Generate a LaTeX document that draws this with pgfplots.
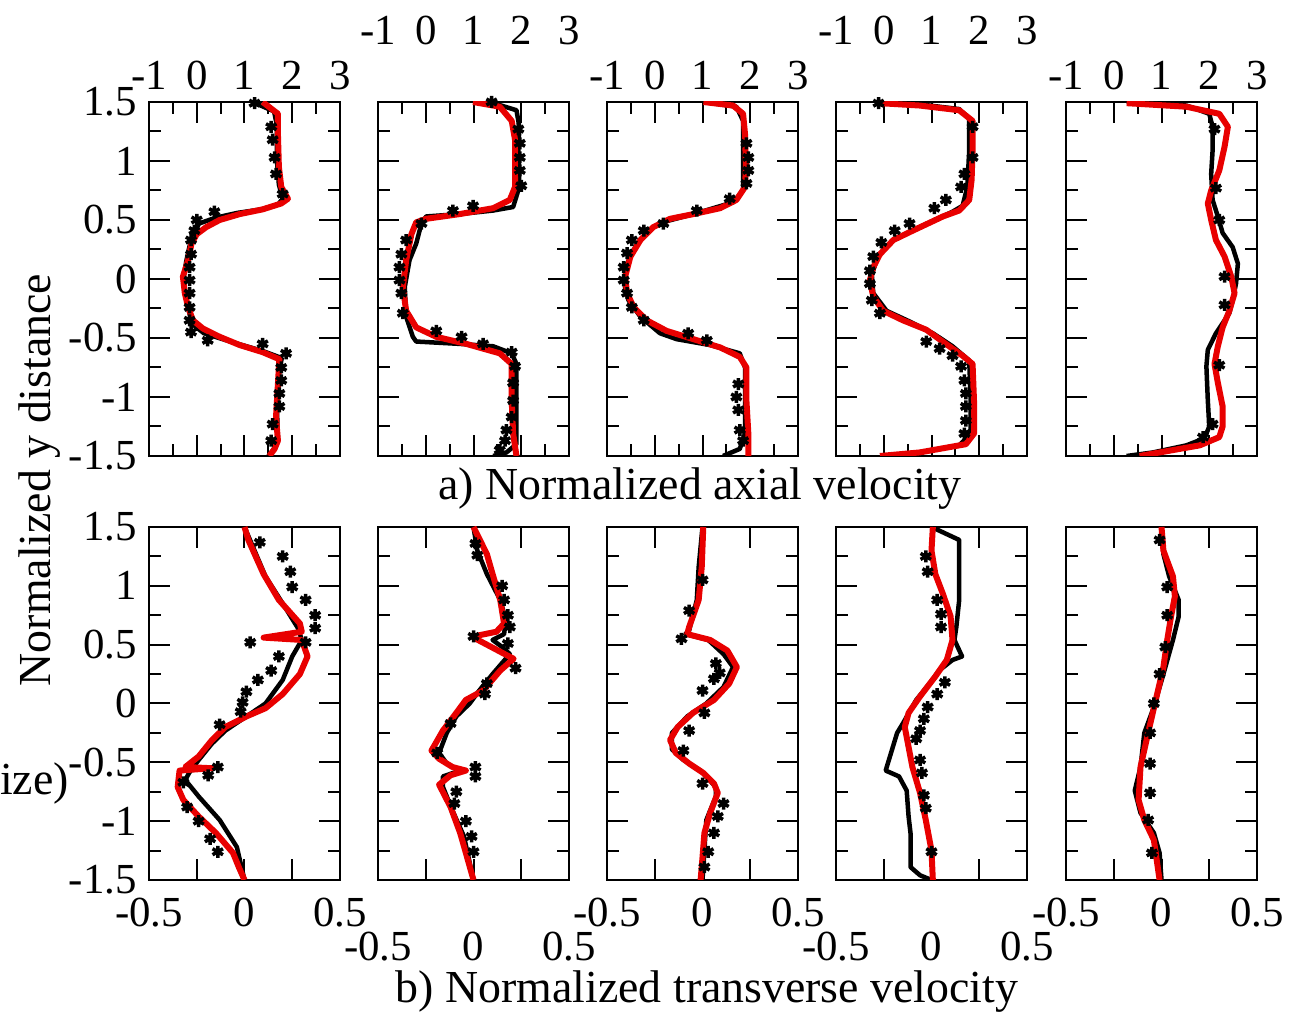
\documentclass[border=0pt]{standalone}
\usepackage{fontspec}
\setmainfont{Liberation Serif}
\usepackage{pgfplots}
\pgfplotsset{compat=1.18}
\definecolor{myred}{RGB}{232,0,0}
\pgfplotsset{
  panel/.style={scale only axis, width=191bp, anchor=north west,
    axis line style={line width=2bp},
    tick style={line width=2bp, black}, tick align=inside,
    major tick length=21bp, minor tick length=12bp,
    ymin=-1.5, ymax=1.5, ytick={-1.5,-1,-0.5,0,0.5,1,1.5},
    minor ytick={-1.25,-0.75,-0.25,0.25,0.75,1.25},
    yticklabels={},
    tick label style={font=\fontsize{43}{48}\selectfont, inner sep=0pt}},
  yl/.style={yticklabels={-1.5,-1,-0.5,0,0.5,1,1.5}, yticklabel style={anchor=east}, yticklabel shift=12bp},
  toprow/.style={panel, height=354bp, xmin=-1, xmax=3, xtick={-1,0,1,2,3},
    minor xtick={-0.5,0.5,1.5,2.5},
    xticklabel pos=upper, xticklabels={-1,0,1,2,3},
    xticklabel style={anchor=south}, xticklabel shift=#1},
  botrow/.style={panel, height=353bp, xmin=-0.5, xmax=0.5, xtick={-0.5,-0.25,0,0.25,0.5},
    xticklabels={-0.5,,0,,0.5}, xticklabel style={anchor=north}, xticklabel shift=#1},
  tkp/.style={black, line width=2bp, no marks, forget plot},
  bl/.style={black, line width=4.5bp, no marks, line join=round},
  rl/.style={myred, line width=6bp, no marks, line join=round},
  st/.style={only marks, mark=asterisk, mark size=6bp, mark options={line width=3.5bp, black}},
}
% tick marks as separate short segments in axis units (one plot per tick)
\newcommand{\topticks}{%
  \pgfplotsinvokeforeach{-1,-0.5,0,0.5,1}{
    \addplot[tkp] coordinates {(-1,##1)(-0.56,##1)};
    \addplot[tkp] coordinates {(3,##1)(2.56,##1)};}
  \pgfplotsinvokeforeach{-1.25,-0.75,-0.25,0.25,0.75,1.25}{
    \addplot[tkp] coordinates {(-1,##1)(-0.75,##1)};
    \addplot[tkp] coordinates {(3,##1)(2.75,##1)};}
  \pgfplotsinvokeforeach{0,1,2}{
    \addplot[tkp] coordinates {(##1,1.5)(##1,1.322)};
    \addplot[tkp] coordinates {(##1,-1.5)(##1,-1.322)};}
  \pgfplotsinvokeforeach{-0.5,0.5,1.5,2.5}{
    \addplot[tkp] coordinates {(##1,1.5)(##1,1.398)};
    \addplot[tkp] coordinates {(##1,-1.5)(##1,-1.398)};}
}
\newcommand{\botticks}{%
  \pgfplotsinvokeforeach{-1,-0.5,0,0.5,1}{
    \addplot[tkp] coordinates {(-0.5,##1)(-0.39,##1)};
    \addplot[tkp] coordinates {(0.5,##1)(0.39,##1)};}
  \pgfplotsinvokeforeach{-1.25,-0.75,-0.25,0.25,0.75,1.25}{
    \addplot[tkp] coordinates {(-0.5,##1)(-0.437,##1)};
    \addplot[tkp] coordinates {(0.5,##1)(0.437,##1)};}
  \pgfplotsinvokeforeach{-0.25,0,0.25}{
    \addplot[tkp] coordinates {(##1,1.5)(##1,1.322)};
    \addplot[tkp] coordinates {(##1,-1.5)(##1,-1.322)};}
}
\begin{document}
\begin{tikzpicture}
\useasboundingbox (0,0) rectangle (1292bp,1012bp);
% ---------------- TOP ROW ----------------
\begin{axis}[toprow=12bp, yl, at={(149bp,910bp)}]
\topticks
\addplot[st] coordinates {(1.21,1.49)(1.56,1.29)(1.59,1.18)(1.63,1.03)(1.66,0.89)(1.80,0.72)(0.37,0.57)(0.0,0.50)(-0.05,0.41)(-0.12,0.33)(-0.12,0.21)(-0.15,0.10)(-0.15,-0.01)(-0.15,-0.12)(-0.15,-0.24)(-0.15,-0.35)(-0.12,-0.45)(0.23,-0.52)(1.38,-0.55)(1.87,-0.63)(1.77,-0.75)(1.77,-0.86)(1.73,-0.97)(1.73,-1.08)(1.59,-1.23)(1.56,-1.37)};
\addplot[bl] coordinates {(1.17,1.5)(1.62,1.42)(1.68,1.30)(1.68,1.0)(1.72,0.80)(1.80,0.68)(1.70,0.63)(1.35,0.59)(0.85,0.56)(0.40,0.52)(0.05,0.47)(-0.08,0.38)(-0.15,0.28)(-0.22,0.15)(-0.28,0.0)(-0.24,-0.14)(-0.16,-0.28)(-0.10,-0.38)(0.15,-0.46)(0.70,-0.53)(1.38,-0.61)(1.78,-0.67)(1.72,-0.80)(1.68,-1.1)(1.70,-1.37)(1.60,-1.45)(1.50,-1.5)};
\addplot[rl] coordinates {(1.38,1.5)(1.70,1.40)(1.70,1.23)(1.72,0.95)(1.77,0.78)(1.91,0.68)(1.77,0.64)(1.38,0.59)(0.90,0.55)(0.48,0.50)(0.20,0.44)(0.0,0.38)(-0.11,0.30)(-0.18,0.16)(-0.29,0.02)(-0.25,-0.12)(-0.18,-0.24)(-0.08,-0.35)(0.13,-0.42)(0.48,-0.49)(0.90,-0.56)(1.38,-0.62)(1.73,-0.68)(1.70,-0.89)(1.66,-1.17)(1.70,-1.37)(1.63,-1.44)(1.52,-1.5)};
\end{axis}
\begin{axis}[toprow=57bp, at={(378bp,910bp)}]
\topticks
\addplot[st] coordinates {(1.38,1.5)(1.94,1.27)(1.97,1.15)(1.97,1.03)(1.97,0.92)(2.0,0.79)(0.99,0.62)(0.57,0.58)(-0.09,0.47)(-0.41,0.33)(-0.51,0.21)(-0.55,0.10)(-0.55,-0.01)(-0.51,-0.12)(-0.48,-0.29)(0.22,-0.44)(0.75,-0.49)(1.20,-0.55)(1.80,-0.62)(1.87,-0.74)(1.83,-0.88)(1.83,-1.03)(1.80,-1.17)(1.69,-1.28)(1.66,-1.37)(1.55,-1.45)};
\addplot[bl] coordinates {(1.34,1.5)(1.90,1.43)(1.96,1.29)(1.94,1.09)(1.96,0.78)(1.83,0.61)(1.41,0.58)(0.71,0.55)(0.01,0.53)(-0.09,0.47)(-0.20,0.30)(-0.34,0.16)(-0.44,-0.07)(-0.41,-0.32)(-0.27,-0.49)(-0.20,-0.53)(0.71,-0.55)(1.41,-0.57)(1.80,-0.63)(1.90,-0.72)(1.90,-1.03)(1.90,-1.40)(1.69,-1.47)(1.41,-1.5)};
\addplot[rl] coordinates {(0.99,1.5)(1.55,1.46)(1.80,1.34)(1.87,1.18)(1.87,0.95)(1.87,0.78)(1.76,0.67)(1.41,0.60)(0.71,0.55)(0.01,0.51)(-0.20,0.48)(-0.30,0.38)(-0.41,0.16)(-0.48,-0.07)(-0.41,-0.27)(-0.20,-0.41)(0.22,-0.49)(0.85,-0.55)(1.55,-0.63)(1.80,-0.72)(1.80,-1.03)(1.83,-1.31)(1.90,-1.5)};
\end{axis}
\begin{axis}[toprow=12bp, at={(607bp,910bp)}]
\topticks
\addplot[st] coordinates {(1.92,1.15)(1.96,1.03)(1.96,0.92)(1.92,0.81)(1.57,0.68)(0.88,0.58)(0.18,0.47)(-0.23,0.41)(-0.48,0.33)(-0.58,0.22)(-0.65,0.10)(-0.65,-0.01)(-0.58,-0.12)(-0.48,-0.24)(-0.23,-0.35)(0.70,-0.46)(1.09,-0.52)(1.75,-0.89)(1.71,-1.0)(1.75,-1.11)(1.78,-1.28)(1.85,-1.37)};
\addplot[bl] coordinates {(1.02,1.5)(1.71,1.46)(1.85,1.34)(1.85,0.95)(1.85,0.75)(1.64,0.65)(0.81,0.55)(0.25,0.49)(-0.03,0.44)(-0.37,0.30)(-0.58,0.13)(-0.64,-0.04)(-0.55,-0.18)(-0.30,-0.32)(0.11,-0.46)(0.46,-0.51)(1.16,-0.56)(1.78,-0.63)(1.89,-0.75)(1.89,-1.31)(1.78,-1.44)(1.43,-1.5)};
\addplot[rl] coordinates {(1.02,1.5)(1.64,1.47)(1.85,1.40)(1.89,1.23)(1.91,0.95)(1.89,0.78)(1.71,0.67)(1.37,0.60)(0.81,0.55)(0.32,0.51)(-0.03,0.44)(-0.30,0.33)(-0.51,0.19)(-0.62,0.02)(-0.58,-0.12)(-0.44,-0.24)(-0.17,-0.35)(0.25,-0.44)(0.81,-0.51)(1.37,-0.58)(1.78,-0.66)(1.92,-0.75)(1.92,-1.03)(1.96,-1.31)(1.96,-1.5)};
\end{axis}
\begin{axis}[toprow=57bp, at={(836bp,910bp)}]
\topticks
\addplot[st] coordinates {(-0.11,1.49)(1.86,1.29)(1.86,1.03)(1.69,0.89)(1.62,0.78)(1.30,0.67)(1.06,0.60)(0.54,0.47)(0.23,0.41)(-0.05,0.31)(-0.22,0.19)(-0.29,0.07)(-0.29,-0.04)(-0.25,-0.18)(-0.08,-0.29)(0.89,-0.53)(1.17,-0.59)(1.44,-0.65)(1.62,-0.74)(1.69,-0.86)(1.72,-0.97)(1.72,-1.08)(1.72,-1.20)(1.69,-1.31)};
\addplot[bl] coordinates {(-0.15,1.5)(0.75,1.48)(1.58,1.44)(1.79,1.36)(1.79,1.09)(1.75,0.78)(1.65,0.62)(1.44,0.57)(0.75,0.44)(0.2,0.33)(-0.11,0.20)(-0.25,0.04)(-0.22,-0.12)(0.06,-0.27)(0.54,-0.36)(1.03,-0.46)(1.44,-0.57)(1.79,-0.69)(1.82,-1.03)(1.82,-1.31)(1.58,-1.41)(0.75,-1.47)(0.0,-1.5)};
\addplot[rl] coordinates {(-0.08,1.49)(0.75,1.47)(1.58,1.43)(1.86,1.34)(1.86,1.09)(1.84,0.84)(1.79,0.67)(1.58,0.58)(1.24,0.53)(0.61,0.41)(0.20,0.33)(-0.08,0.21)(-0.22,0.10)(-0.29,-0.01)(-0.22,-0.15)(-0.01,-0.27)(0.40,-0.35)(0.89,-0.43)(1.30,-0.55)(1.65,-0.65)(1.86,-0.72)(1.89,-1.03)(1.89,-1.31)(1.72,-1.40)(0.75,-1.47)(-0.08,-1.5)};
\end{axis}
\begin{axis}[toprow=12bp, at={(1066bp,910bp)}]
\topticks
\addplot[st] coordinates {(2.11,1.27)(2.14,0.77)(2.21,0.50)(2.32,0.02)(2.32,-0.22)(2.21,-0.73)(2.07,-1.23)(1.87,-1.34)};
\addplot[bl] coordinates {(0.27,1.5)(1.52,1.47)(2.0,1.40)(2.07,1.29)(2.07,1.09)(2.04,0.89)(2.07,0.67)(2.18,0.53)(2.28,0.39)(2.49,0.27)(2.60,0.13)(2.56,-0.04)(2.49,-0.18)(2.42,-0.29)(2.14,-0.46)(1.97,-0.60)(1.94,-0.74)(1.97,-1.03)(2.0,-1.25)(1.90,-1.35)(1.52,-1.41)(0.82,-1.47)(0.27,-1.5)};
\addplot[rl] coordinates {(0.27,1.49)(1.52,1.46)(2.21,1.40)(2.39,1.29)(2.32,1.12)(2.21,0.92)(2.04,0.75)(1.97,0.64)(2.04,0.50)(2.14,0.33)(2.32,0.19)(2.46,0.02)(2.53,-0.12)(2.42,-0.27)(2.28,-0.41)(2.18,-0.57)(2.11,-0.72)(2.18,-0.88)(2.28,-1.08)(2.28,-1.25)(2.21,-1.34)(1.80,-1.41)(0.96,-1.47)(0.54,-1.5)};
\end{axis}
% ---------------- BOTTOM ROW ----------------
\begin{axis}[botrow=18bp, yl, at={(149bp,485bp)}]
\botticks
\addplot[st] coordinates {(0.08,1.37)(0.20,1.25)(0.24,1.12)(0.25,0.99)(0.32,0.88)(0.37,0.75)(0.37,0.64)(0.32,0.52)(0.03,0.52)(0.18,0.40)(0.14,0.28)(0.07,0.20)(0.01,0.10)(-0.01,0.01)(-0.02,-0.07)(-0.13,-0.18)(-0.14,-0.54)(-0.19,-0.61)(-0.32,-0.67)(-0.30,-0.88)(-0.24,-1.0)(-0.18,-1.15)(-0.14,-1.26)};
\addplot[bl] coordinates {(0,1.5)(0.11,1.08)(0.20,0.85)(0.28,0.64)(0.29,0.59)(0.30,0.54)(0.25,0.40)(0.20,0.20)(0.11,0.0)(0.01,-0.11)(-0.10,-0.23)(-0.17,-0.34)(-0.24,-0.48)(-0.29,-0.59)(-0.31,-0.65)(-0.24,-0.79)(-0.13,-0.99)(-0.04,-1.22)(0,-1.5)};
\addplot[rl] coordinates {(0.0,1.5)(0.02,1.39)(0.10,1.10)(0.18,0.88)(0.29,0.68)(0.30,0.61)(0.10,0.56)(0.30,0.54)(0.33,0.40)(0.29,0.25)(0.20,0.08)(0.11,-0.04)(0.01,-0.11)(-0.10,-0.20)(-0.17,-0.31)(-0.24,-0.45)(-0.31,-0.54)(-0.17,-0.55)(-0.34,-0.57)(-0.35,-0.71)(-0.32,-0.82)(-0.24,-0.96)(-0.15,-1.10)(-0.06,-1.27)(-0.03,-1.39)(0.0,-1.5)};
\end{axis}
\begin{axis}[botrow=52bp, at={(378bp,485bp)}]
\botticks
\addplot[st] coordinates {(0.01,1.36)(0.02,1.26)(0.15,1.0)(0.16,0.88)(0.18,0.75)(0.19,0.65)(0.0,0.57)(0.18,0.51)(0.22,0.30)(0.07,0.17)(0.06,0.08)(-0.12,-0.17)(-0.19,-0.42)(0.01,-0.54)(0.01,-0.62)(-0.09,-0.75)(-0.10,-0.85)(-0.04,-1.0)(-0.01,-1.13)(0.0,-1.26)};
\addplot[bl] coordinates {(0,1.5)(0.02,1.30)(0.07,1.10)(0.14,0.88)(0.17,0.71)(0.16,0.59)(0.10,0.54)(0.15,0.48)(0.19,0.42)(0.10,0.25)(0.03,0.11)(-0.02,0.0)(-0.09,-0.11)(-0.14,-0.25)(-0.18,-0.42)(-0.14,-0.51)(-0.07,-0.57)(-0.16,-0.62)(-0.16,-0.71)(-0.11,-0.91)(-0.05,-1.13)(0,-1.5)};
\addplot[rl] coordinates {(0.0,1.5)(0.07,1.27)(0.10,1.10)(0.14,0.88)(0.16,0.68)(0.12,0.61)(0.03,0.58)(0.0,0.56)(0.21,0.38)(0.14,0.28)(0.05,0.11)(-0.04,0.03)(-0.09,-0.08)(-0.16,-0.23)(-0.22,-0.40)(-0.18,-0.47)(-0.11,-0.54)(-0.04,-0.57)(-0.12,-0.61)(-0.18,-0.69)(-0.12,-0.88)(-0.07,-1.10)(-0.04,-1.27)(0.0,-1.5)};
\end{axis}
\begin{axis}[botrow=18bp, at={(607bp,485bp)}]
\botticks
\addplot[st] coordinates {(0.0,1.05)(-0.07,0.79)(-0.11,0.55)(0.07,0.34)(0.09,0.26)(0.06,0.21)(0.0,0.11)(0.01,-0.08)(-0.07,-0.23)(-0.10,-0.40)(0.0,-0.68)(0.11,-0.85)(0.08,-0.96)(0.06,-1.10)(0.03,-1.26)(0.01,-1.39)};
\addplot[bl] coordinates {(0,1.5)(-0.02,1.16)(-0.03,0.88)(-0.07,0.62)(-0.09,0.59)(0.03,0.54)(0.11,0.42)(0.16,0.31)(0.11,0.14)(0.02,0.0)(-0.08,-0.11)(-0.16,-0.25)(-0.16,-0.39)(-0.10,-0.48)(-0.01,-0.57)(0.07,-0.71)(0.07,-0.79)(0.02,-0.99)(0.0,-1.5)};
\addplot[rl] coordinates {(0.004,1.5)(-0.004,1.16)(-0.02,0.88)(-0.07,0.65)(-0.08,0.59)(0.04,0.54)(0.13,0.45)(0.18,0.31)(0.14,0.17)(0.06,0.03)(-0.05,-0.08)(-0.13,-0.20)(-0.17,-0.31)(-0.14,-0.42)(-0.07,-0.51)(0.004,-0.59)(0.06,-0.68)(0.08,-0.76)(0.04,-0.93)(0.01,-1.10)(-0.004,-1.39)(-0.01,-1.5)};
\end{axis}
\begin{axis}[botrow=52bp, at={(836bp,485bp)}]
\botticks
\addplot[st] coordinates {(-0.03,1.25)(-0.02,1.12)(0.03,0.88)(0.05,0.76)(0.05,0.65)(0.07,0.18)(0.03,0.08)(-0.02,-0.03)(-0.04,-0.13)(-0.06,-0.23)(-0.08,-0.30)(-0.06,-0.48)(-0.05,-0.59)(-0.04,-0.78)(-0.03,-0.89)(0.0,-1.26)};
\addplot[bl] coordinates {(0,1.5)(0.145,1.39)(0.145,1.22)(0.145,0.88)(0.13,0.65)(0.12,0.54)(0.16,0.40)(0.11,0.37)(0.04,0.28)(-0.01,0.17)(-0.08,0.03)(-0.15,-0.17)(-0.18,-0.25)(-0.24,-0.57)(-0.17,-0.62)(-0.13,-0.74)(-0.12,-0.96)(-0.11,-1.10)(-0.11,-1.39)(-0.06,-1.46)(0.0,-1.5)};
\addplot[rl] coordinates {(0.007,1.5)(0.0,1.30)(0.02,1.10)(0.06,0.93)(0.10,0.74)(0.11,0.54)(0.08,0.37)(0.02,0.23)(-0.06,0.06)(-0.12,-0.08)(-0.14,-0.20)(-0.12,-0.37)(-0.10,-0.54)(-0.06,-0.76)(-0.03,-0.99)(0.0,-1.25)(0.007,-1.5)};
\end{axis}
\begin{axis}[botrow=18bp, at={(1066bp,485bp)}]
\botticks
\addplot[st] coordinates {(-0.01,1.39)(0.03,0.99)(0.03,0.75)(0.02,0.48)(-0.01,0.25)(-0.04,0.0)(-0.06,-0.25)(-0.06,-0.51)(-0.06,-0.76)(-0.07,-0.99)(-0.05,-1.27)};
\addplot[bl] coordinates {(0.0,1.5)(0.01,1.27)(0.04,1.08)(0.09,0.88)(0.09,0.74)(0.06,0.54)(0.01,0.25)(-0.04,-0.03)(-0.09,-0.25)(-0.11,-0.54)(-0.14,-0.74)(-0.11,-0.93)(-0.04,-1.10)(-0.01,-1.27)(0.0,-1.5)};
\addplot[rl] coordinates {(0.0,1.5)(0.01,1.30)(0.06,1.08)(0.07,0.91)(0.05,0.74)(0.03,0.54)(0.01,0.31)(-0.03,0.03)(-0.07,-0.25)(-0.11,-0.54)(-0.12,-0.82)(-0.09,-0.99)(-0.04,-1.16)(-0.01,-1.5)};
\end{axis}
% ---------------- TEXT ----------------
\node[anchor=base, inner sep=0pt, font=\fontsize{46}{50}\selectfont] at (700bp,512bp) {a) Normalized axial velocity};
\node[anchor=base, inner sep=0pt, font=\fontsize{46}{50}\selectfont] at (707bp,10bp) {b) Normalized transverse velocity};
\node[anchor=base, rotate=90, inner sep=0pt, font=\fontsize{46}{50}\selectfont] at (50bp,532bp) {Normalized y distance};
\node[anchor=base east, inner sep=0pt, font=\fontsize{46}{50}\selectfont] at (69bp,217bp) {ize)};
\end{tikzpicture}
\end{document}
